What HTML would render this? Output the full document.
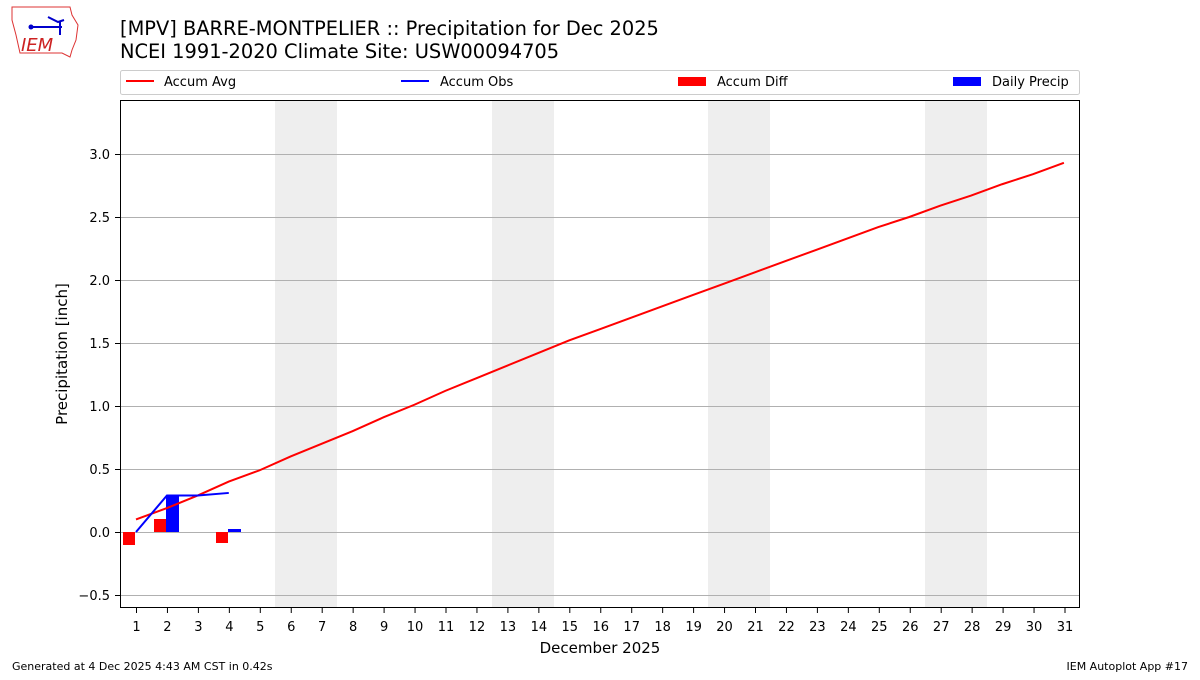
<!DOCTYPE html><html><head><style>body{margin:0;background:#fff}svg text{font-family:"DejaVu Sans","Liberation Sans",sans-serif}</style></head><body>
<svg width="1200" height="675" xmlns="http://www.w3.org/2000/svg">
<rect width="1200" height="675" fill="#fff"/>
<g transform="translate(10,5)">
<path d="M2 2 L60 2 L62 10 L68 20 L66 35 L62 45 L60 52 L52 48 L10 48 L6 30 L2 15Z" fill="#fff" stroke="#d33" stroke-width="1"/>
<line x1="20" y1="22" x2="52" y2="22" stroke="#00c" stroke-width="2"/><circle cx="21" cy="22" r="2.5" fill="#00c"/>
<path d="M38 12 L48 17 L54 15" stroke="#00c" stroke-width="2" fill="none"/><line x1="50" y1="16" x2="50" y2="30" stroke="#00c" stroke-width="2"/>
<text x="11" y="46" font-size="18" font-style="italic" fill="#c22" font-family="Liberation Serif">IEM</text>
</g>
<text x="120" y="35" font-size="19.4" fill="#000">[MPV] BARRE-MONTPELIER :: Precipitation for Dec 2025</text>
<text x="120" y="58" font-size="19.4" fill="#000">NCEI 1991-2020 Climate Site: USW00094705</text>
<rect x="120.5" y="70.5" width="959" height="24" fill="#fff" stroke="#ccc" rx="2"/>
<line x1="126" y1="81" x2="154" y2="81" stroke="red" stroke-width="2"/><text x="164" y="86" font-size="13">Accum Avg</text>
<line x1="401" y1="81" x2="429" y2="81" stroke="blue" stroke-width="2"/><text x="440" y="86" font-size="13">Accum Obs</text>
<rect x="678" y="77" width="28" height="9" fill="red"/><text x="717" y="86" font-size="13">Accum Diff</text>
<rect x="953" y="77" width="28" height="9" fill="blue"/><text x="992" y="86" font-size="13">Daily Precip</text>
<g fill="#eee">
<rect x="275" y="100" width="62" height="508"/><rect x="492" y="100" width="62" height="508"/><rect x="708" y="100" width="62" height="508"/><rect x="925" y="100" width="62" height="508"/>
</g>
<g stroke="#b0b0b0" stroke-width="1">
<line x1="120" x2="1080" y1="154.5" y2="154.5"/><line x1="120" x2="1080" y1="217.5" y2="217.5"/><line x1="120" x2="1080" y1="280.5" y2="280.5"/><line x1="120" x2="1080" y1="343.5" y2="343.5"/><line x1="120" x2="1080" y1="406.5" y2="406.5"/><line x1="120" x2="1080" y1="469.5" y2="469.5"/><line x1="120" x2="1080" y1="532.5" y2="532.5"/><line x1="120" x2="1080" y1="595.5" y2="595.5"/>
</g>
<rect x="123" y="532" width="12" height="13" fill="red"/>
<rect x="154" y="519" width="12" height="13" fill="red"/>
<rect x="166" y="495" width="13" height="37" fill="blue"/>
<rect x="216" y="532" width="12" height="11" fill="red"/>
<rect x="228" y="529" width="13" height="3" fill="blue"/>
<g transform="translate(105.07,532) scale(30.93,-126)" fill="none">
<polyline vector-effect="non-scaling-stroke" stroke="red" stroke-width="2" points="1,0.1 2,0.19 3,0.29 4,0.4 5,0.49 6,0.6 7,0.7 8,0.8 9,0.91 10,1.01 11,1.12 12,1.22 13,1.32 14,1.42 15,1.52 16,1.61 17,1.7 18,1.79 19,1.88 20,1.97 21,2.06 22,2.15 23,2.24 24,2.33 25,2.42 26,2.5 27,2.59 28,2.67 29,2.76 30,2.84 31,2.93"/>
<polyline vector-effect="non-scaling-stroke" stroke="blue" stroke-width="2" points="1,0 2,0.29 3,0.29 4,0.31"/>
</g>
<rect x="120.5" y="100.5" width="959" height="507" fill="none" stroke="#000"/>
<g font-size="13" text-anchor="end">
<text x="110" y="159">3.0</text><text x="110" y="222">2.5</text><text x="110" y="285">2.0</text><text x="110" y="348">1.5</text><text x="110" y="411">1.0</text><text x="110" y="474">0.5</text><text x="110" y="537">0.0</text><text x="110" y="600">−0.5</text>
</g>
<g stroke="#000"><line x1="115" x2="120" y1="154.5" y2="154.5"/><line x1="115" x2="120" y1="217.5" y2="217.5"/><line x1="115" x2="120" y1="280.5" y2="280.5"/><line x1="115" x2="120" y1="343.5" y2="343.5"/><line x1="115" x2="120" y1="406.5" y2="406.5"/><line x1="115" x2="120" y1="469.5" y2="469.5"/><line x1="115" x2="120" y1="532.5" y2="532.5"/><line x1="115" x2="120" y1="595.5" y2="595.5"/></g>
<g font-size="13" text-anchor="middle" id="xt"></g>
<text x="600" y="649" font-size="15" text-anchor="middle" dy="4">December 2025</text>
<text transform="translate(67,354) rotate(-90)" font-size="15" text-anchor="middle">Precipitation [inch]</text>
<text x="12" y="670" font-size="11">Generated at 4 Dec 2025 4:43 AM CST in 0.42s</text>
<text x="1188" y="670" font-size="11" text-anchor="end">IEM Autoplot App #17</text>
</svg>
<script>
var g=document.getElementById('xt'),ns='http://www.w3.org/2000/svg';
for(var d=1;d<=31;d++){var x=136.5+(d-1)*30.95;var t=document.createElementNS(ns,'text');t.setAttribute('x',x);t.setAttribute('y',631);t.textContent=d;g.appendChild(t);
var l=document.createElementNS(ns,'line');l.setAttribute('x1',x);l.setAttribute('x2',x);l.setAttribute('y1',608);l.setAttribute('y2',613);l.setAttribute('stroke','#000');g.appendChild(l);}
</script>
</body></html>
